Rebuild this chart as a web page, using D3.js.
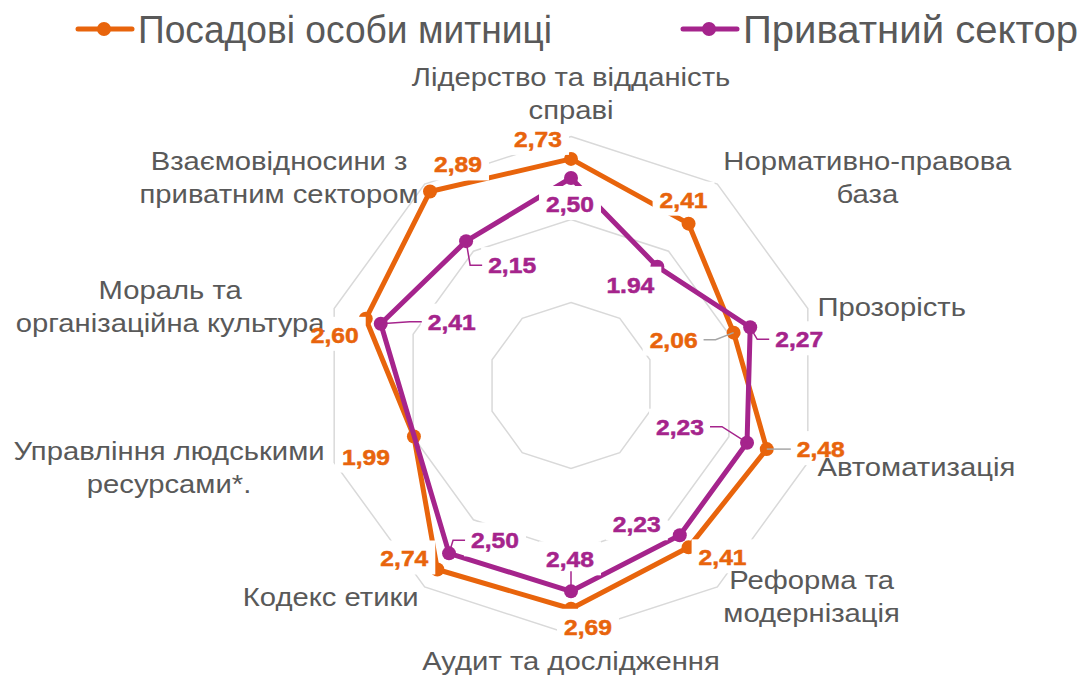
<!DOCTYPE html>
<html>
<head>
<meta charset="utf-8">
<script src="https://cdn.jsdelivr.net/npm/d3@7"></script>
<style>
  body { margin: 0; background: #fff; }
  svg { display: block; font-family: "Liberation Sans", Arial, sans-serif; }
</style>
</head>
<body>
<div id="chart"></div>
<script>
// Categories (each entry = lines of the axis label), clockwise from the top
const categories = [
  ["Лідерство та відданість", "справі"],
  ["Нормативно-правова", "база"],
  ["Прозорість"],
  ["Автоматизація"],
  ["Реформа та", "модернізація"],
  ["Аудит та дослідження"],
  ["Кодекс етики"],
  ["Управління людськими", "ресурсами*."],
  ["Мораль та", "організаційна культура"],
  ["Взаємовідносини з", "приватним сектором"]
];

const seriesNames = ["Посадові особи митниці", "Приватний сектор"];

// Series values (as plotted) and their data-label texts
const customsValues = [2.73, 2.41, 2.06, 2.48, 2.41, 2.69, 2.74, 1.99, 2.60, 2.89];
const customsLabels = ["2,73", "2,41", "2,06", "2,48", "2,41", "2,69", "2,74", "1,99", "2,60", "2,89"];
const privateValues = [2.50, 1.77, 2.27, 2.23, 2.23, 2.48, 2.50, null, 2.41, 2.15];
const privateLabels = ["2,50", "1.94", "2,27", "2,23", "2,23", "2,48", "2,50", null, "2,41", "2,15"];

const gridTicks = [1, 2, 3];

// Layout
const width = 1078, height = 675;
const cx = 571, cy = 385.5, radius = 249;
const colors = ["#E8640C", "#A5248C"];
const textGray = "#595959";
const gridColor = "#D9D9D9";
const catStretch = 1.17, valStretch = 1.12;

// data-label offsets from their point (text centre x, baseline y) and leader flags
const customsOffsets = [[-33,-12],[-5,-16],[-60,15],[54,8],[34,18],[17,26],[-33,-3],[-48,28],[-31,24],[28,-19]];
const privateOffsets = [[-1,34],[-27,26],[49,20],[-67,-8],[-43,-3],[-1,-24],[46,-5],null,[71,6],[46,32]];
const customsLeaders = [0,0,1,1,0,0,0,0,0,0];
const privateLeaders = [0,0,1,1,0,1,1,0,1,1];

const svg = d3.select("#chart")
  .append("svg")
  .attr("width", width)
  .attr("height", height);

const rScale = d3.scaleLinear().domain([0, 3]).range([0, radius]);
const n = categories.length;
const angle = i => i * 2 * Math.PI / n;
const pos = (i, v) => [cx + rScale(v) * Math.sin(angle(i)), cy - rScale(v) * Math.cos(angle(i))];

// Grid rings
const ringLine = d3.line().curve(d3.curveLinearClosed);
svg.append("g")
  .selectAll("path")
  .data(gridTicks)
  .enter()
  .append("path")
  .attr("d", t => ringLine(categories.map((c, i) => pos(i, t))))
  .attr("fill", "none")
  .attr("stroke", gridColor)
  .attr("stroke-width", 1.5);

// Series
const seriesLine = d3.line().curve(d3.curveLinearClosed);
const series = [
  {values: customsValues, labels: customsLabels, offsets: customsOffsets, leaders: customsLeaders, color: colors[0], leaderColor: "#A6A6A6"},
  {values: privateValues, labels: privateLabels, offsets: privateOffsets, leaders: privateLeaders, color: colors[1], leaderColor: colors[1]}
];

series.forEach(s => {
  const pts = s.values.map((v, i) => v == null ? null : pos(i, v)).filter(p => p);
  svg.append("path")
    .attr("d", seriesLine(pts))
    .attr("fill", "none")
    .attr("stroke", s.color)
    .attr("stroke-width", 5)
    .attr("stroke-linejoin", "round");
  svg.append("g")
    .selectAll("circle")
    .data(pts)
    .enter()
    .append("circle")
    .attr("cx", d => d[0])
    .attr("cy", d => d[1])
    .attr("r", 7)
    .attr("fill", s.color);
});

// Data label boxes + leaders first, texts later (above the category labels)
const boxG = svg.append("g");
const catG = svg.append("g");
const valG = svg.append("g");

series.forEach(s => {
  s.values.forEach((v, i) => {
    if (v == null) return;
    const [px, py] = pos(i, v);
    const tx = px + s.offsets[i][0], by = py + s.offsets[i][1];
    const t = valG.append("text")
      .text(s.labels[i])
      .attr("font-size", 22)
      .attr("font-weight", "bold")
      .attr("fill", s.color)
      .attr("stroke", s.color)
      .attr("stroke-width", 0.5)
      .attr("text-anchor", "middle")
      .attr("transform", `translate(${tx},${by}) scale(${valStretch},1)`);
    const w = t.node().getComputedTextLength() * valStretch;
    boxG.append("rect")
      .attr("x", tx - w / 2 - 7).attr("y", by - 26)
      .attr("width", w + 14).attr("height", 34)
      .attr("fill", "#fff");
    if (s.leaders[i]) {
      let d;
      if (Math.abs(px - tx) < w / 2) {
        d = [[px, by + 4], [px, py]];
      } else {
        const dir = px < tx ? -1 : 1;
        const sx = tx + dir * (w / 2 + 6), my = by - 8;
        const hx = sx + dir * Math.min(12, Math.abs(px - sx));
        d = [[sx, my], [hx, my], [px, py]];
      }
      boxG.append("path")
        .attr("d", d3.line()(d))
        .attr("fill", "none")
        .attr("stroke", s.leaderColor)
        .attr("stroke-width", 1.5);
    }
  });
});

// Category labels
const lineH = 33;
categories.forEach((lines, i) => {
  const a = angle(i);
  const ax = cx + (radius + 10) * Math.sin(a);
  const ay = cy - (radius + 10) * Math.cos(a);
  const texts = lines.map(s => catG.append("text")
    .text(s)
    .attr("font-size", 25)
    .attr("fill", textGray)
    .attr("text-anchor", "middle"));
  const w = d3.max(texts, t => t.node().getComputedTextLength()) * catStretch;
  const blockH = lines.length * lineH;
  let centerX, topY;
  const sinA = Math.sin(a), cosA = Math.cos(a);
  if (Math.abs(sinA) < 0.01) {
    centerX = ax;
    topY = cosA > 0 ? ay - blockH : ay;
  } else if (sinA > 0) {
    centerX = ax + w / 2;
    topY = ay - blockH / 2 + 2;
  } else {
    centerX = ax - w / 2;
    topY = ay - blockH / 2 + 2;
  }
  texts.forEach((t, k) => {
    t.attr("transform", `translate(${centerX},${topY + 25 + k * lineH}) scale(${catStretch},1)`);
  });
});

// Legend
const legendX = [78, 683];
const legendW = [414, 335];
const legend = svg.append("g");
seriesNames.forEach((name, k) => {
  const x0 = legendX[k];
  legend.append("line")
    .attr("x1", x0).attr("x2", x0 + 54)
    .attr("y1", 29).attr("y2", 29)
    .attr("stroke", colors[k])
    .attr("stroke-width", 5)
    .attr("stroke-linecap", "round");
  legend.append("circle")
    .attr("cx", x0 + 26).attr("cy", 29).attr("r", 7)
    .attr("fill", colors[k]);
  legend.append("text")
    .attr("x", x0 + 60).attr("y", 43)
    .attr("font-size", 38)
    .attr("fill", textGray)
    .attr("textLength", legendW[k])
    .attr("lengthAdjust", "spacingAndGlyphs")
    .text(name);
});
</script>
</body>
</html>
